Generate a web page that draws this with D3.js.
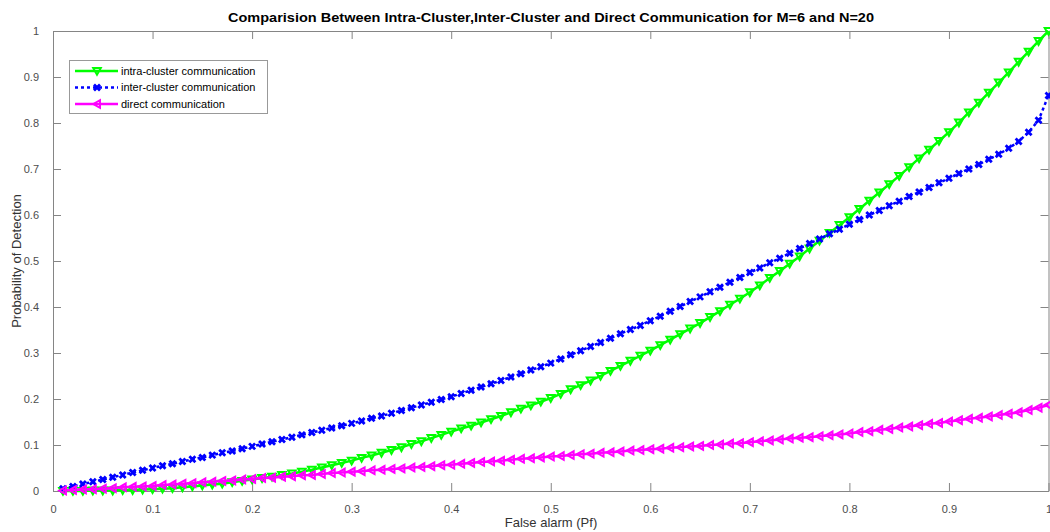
<!DOCTYPE html>
<html>
<head>
<meta charset="utf-8">
<script src="https://cdn.jsdelivr.net/npm/d3@7"></script>
<style>
  body { margin: 0; background: #fff; }
  text { font-family: "Liberation Sans", Arial, sans-serif; }
  .tick text { fill: #4d4d4d; font-size: 11px; }
  .tick line, .domain { stroke: #858585; }
</style>
</head>
<body>
<svg id="chart" width="1050" height="532"></svg>
<script>
// false alarm probability, 0.01 .. 1.00
const pf = [
  0.01,0.02,0.03,0.04,0.05,0.06,0.07,0.08,0.09,0.10,
  0.11,0.12,0.13,0.14,0.15,0.16,0.17,0.18,0.19,0.20,
  0.21,0.22,0.23,0.24,0.25,0.26,0.27,0.28,0.29,0.30,
  0.31,0.32,0.33,0.34,0.35,0.36,0.37,0.38,0.39,0.40,
  0.41,0.42,0.43,0.44,0.45,0.46,0.47,0.48,0.49,0.50,
  0.51,0.52,0.53,0.54,0.55,0.56,0.57,0.58,0.59,0.60,
  0.61,0.62,0.63,0.64,0.65,0.66,0.67,0.68,0.69,0.70,
  0.71,0.72,0.73,0.74,0.75,0.76,0.77,0.78,0.79,0.80,
  0.81,0.82,0.83,0.84,0.85,0.86,0.87,0.88,0.89,0.90,
  0.91,0.92,0.93,0.94,0.95,0.96,0.97,0.98,0.99,1.00
];

const intraCluster = [
  0.000,0.000,0.000,0.001,0.001,0.001,0.002,0.002,0.003,0.004,
  0.005,0.006,0.008,0.010,0.012,0.014,0.016,0.019,0.022,0.025,
  0.028,0.031,0.035,0.038,0.042,0.046,0.051,0.056,0.061,0.066,
  0.072,0.077,0.083,0.089,0.095,0.102,0.108,0.115,0.122,0.129,
  0.136,0.142,0.149,0.156,0.163,0.171,0.179,0.186,0.194,0.202,
  0.211,0.221,0.230,0.240,0.250,0.261,0.272,0.283,0.294,0.305,
  0.317,0.329,0.341,0.353,0.365,0.378,0.391,0.405,0.418,0.432,
  0.447,0.463,0.478,0.494,0.510,0.527,0.544,0.561,0.578,0.595,
  0.613,0.631,0.649,0.667,0.685,0.704,0.723,0.742,0.761,0.780,
  0.801,0.823,0.844,0.866,0.888,0.910,0.933,0.955,0.978,1.000
];

const interCluster = [
  0.005,0.010,0.015,0.020,0.025,0.030,0.035,0.040,0.045,0.050,
  0.055,0.059,0.064,0.069,0.073,0.078,0.083,0.087,0.092,0.097,
  0.102,0.107,0.112,0.117,0.122,0.127,0.132,0.137,0.142,0.147,
  0.152,0.158,0.163,0.169,0.175,0.181,0.187,0.193,0.199,0.205,
  0.212,0.219,0.226,0.233,0.240,0.248,0.255,0.263,0.270,0.278,
  0.287,0.296,0.305,0.314,0.323,0.332,0.342,0.351,0.360,0.370,
  0.380,0.391,0.401,0.412,0.422,0.433,0.443,0.454,0.464,0.475,
  0.485,0.496,0.506,0.517,0.527,0.538,0.548,0.559,0.569,0.580,
  0.590,0.600,0.610,0.620,0.630,0.640,0.650,0.660,0.670,0.680,
  0.690,0.700,0.710,0.721,0.732,0.745,0.760,0.780,0.806,0.860
];

const direct = [
  0.001,0.002,0.003,0.004,0.005,0.006,0.008,0.009,0.010,0.011,
  0.013,0.014,0.016,0.017,0.019,0.020,0.022,0.023,0.025,0.026,
  0.028,0.029,0.031,0.032,0.034,0.035,0.037,0.039,0.040,0.042,
  0.043,0.045,0.046,0.048,0.049,0.051,0.052,0.054,0.056,0.057,
  0.059,0.061,0.063,0.064,0.066,0.068,0.070,0.071,0.073,0.075,
  0.076,0.078,0.080,0.081,0.083,0.084,0.086,0.088,0.089,0.091,
  0.092,0.094,0.095,0.097,0.098,0.100,0.101,0.103,0.104,0.106,
  0.108,0.110,0.112,0.114,0.116,0.117,0.119,0.121,0.123,0.125,
  0.128,0.130,0.133,0.135,0.138,0.140,0.143,0.146,0.148,0.151,
  0.154,0.157,0.159,0.162,0.165,0.168,0.171,0.176,0.181,0.187
];

const seriesNames = ["intra-cluster communication", "inter-cluster communication", "direct communication"];
const xTicks = [0, 0.1, 0.2, 0.3, 0.4, 0.5, 0.6, 0.7, 0.8, 0.9, 1];
const yTicks = [0, 0.1, 0.2, 0.3, 0.4, 0.5, 0.6, 0.7, 0.8, 0.9, 1];

const svg = d3.select("#chart");
const x = d3.scaleLinear([0, 1], [53, 1048.5]);
const y = d3.scaleLinear([0, 1], [491, 31]);
const fmt = d3.format("~g");

// markers (MATLAB style, hollow)
const markers = {
  down: "M-3.8,-3L3.8,-3L0,3.8Z",
  cross: "M-3,-3L3,3M-3,3L3,-3",
  left: "M-3.8,0L3,-3.8L3,3.8Z"
};

const series = [
  { name: seriesNames[0], values: intraCluster, color: "#00ff00", dash: null, marker: "down", mw: 2 },
  { name: seriesNames[1], values: interCluster, color: "#0000ff", dash: "3,3", marker: "cross", mw: 2.8 },
  { name: seriesNames[2], values: direct, color: "#ff00ff", dash: null, marker: "left", mw: 2 }
];

// axes (ticks point inward, box on)
svg.append("g")
  .attr("transform", `translate(0,${y(0)})`)
  .call(d3.axisBottom(x).tickValues(xTicks).tickFormat(fmt).tickSizeInner(-8).tickSizeOuter(0).tickPadding(14))
  .call(g => g.selectAll(".tick text").attr("dy", "0.71em"));

svg.append("g")
  .attr("transform", `translate(${x(0)},0)`)
  .call(d3.axisLeft(y).tickValues(yTicks).tickFormat(fmt).tickSizeInner(-8).tickSizeOuter(0).tickPadding(14));

svg.append("g")
  .attr("transform", `translate(0,${y(1)})`)
  .call(d3.axisTop(x).tickValues(xTicks).tickFormat("").tickSizeInner(-8).tickSizeOuter(0));

svg.append("g")
  .attr("transform", `translate(${x(1)},0)`)
  .call(d3.axisRight(y).tickValues(yTicks).tickFormat("").tickSizeInner(-8).tickSizeOuter(0));

// curves
const line = d3.line().x((d, i) => x(pf[i])).y(d => y(d));

for (const s of series) {
  const g = svg.append("g");
  g.append("path")
    .datum(s.values)
    .attr("d", line)
    .attr("fill", "none")
    .attr("stroke", s.color)
    .attr("stroke-width", 2.5)
    .attr("stroke-dasharray", s.dash);
  g.selectAll("path.mk")
    .data(s.values)
    .join("path")
    .attr("class", "mk")
    .attr("transform", (d, i) => `translate(${x(pf[i])},${y(d)})`)
    .attr("d", markers[s.marker])
    .attr("fill", "none")
    .attr("stroke", s.color)
    .attr("stroke-width", s.mw);
}

// title and axis labels
svg.append("text")
  .attr("x", 551).attr("y", 22)
  .attr("text-anchor", "middle")
  .attr("font-size", 13).attr("font-weight", "bold")
  .attr("fill", "#000")
  .attr("textLength", 646).attr("lengthAdjust", "spacingAndGlyphs")
  .text("Comparision Between Intra-Cluster,Inter-Cluster and Direct Communication for M=6 and N=20");

svg.append("text")
  .attr("x", 551).attr("y", 527)
  .attr("text-anchor", "middle")
  .attr("font-size", 13).attr("fill", "#333")
  .text("False alarm (Pf)");

svg.append("text")
  .attr("transform", `translate(21,${y(0.5)}) rotate(-90)`)
  .attr("text-anchor", "middle")
  .attr("font-size", 13).attr("fill", "#333")
  .text("Probability of Detection");

// legend
const legend = svg.append("g");
legend.append("rect")
  .attr("x", 69.5).attr("y", 60.5)
  .attr("width", 198).attr("height", 53)
  .attr("fill", "#fff").attr("stroke", "#999");

series.forEach((s, i) => {
  const ly = 71 + i * 16.5;
  legend.append("line")
    .attr("x1", 75).attr("x2", 118).attr("y1", ly).attr("y2", ly)
    .attr("stroke", s.color).attr("stroke-width", 2.5)
    .attr("stroke-dasharray", s.dash);
  legend.append("path")
    .attr("transform", `translate(97,${ly})`)
    .attr("d", markers[s.marker])
    .attr("fill", "none").attr("stroke", s.color).attr("stroke-width", s.mw);
  legend.append("text")
    .attr("x", 121).attr("y", ly).attr("dy", "0.35em")
    .attr("font-size", 11).attr("fill", "#000")
    .text(s.name);
});
</script>
</body>
</html>
